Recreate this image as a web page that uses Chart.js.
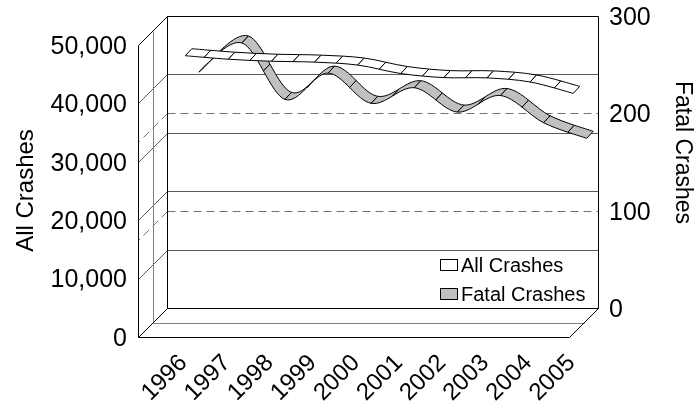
<!DOCTYPE html>
<html><head><meta charset="utf-8">
<script src="https://cdn.jsdelivr.net/npm/chart.js@4.4.1/dist/chart.umd.min.js"></script>
<style>html,body{margin:0;padding:0;background:#fff;}#wrap{width:695px;height:402px;}</style>
</head><body><div id="wrap"><canvas id="c" width="695" height="402"></canvas></div>
<script>
const categories = ['1996','1997','1998','1999','2000','2001','2002','2003','2004','2005'];
const allCrashes = [43800, 43200, 42850, 42700, 42200, 40750, 40050, 40000, 39300, 37350];
const fatalCrashes = [231, 261, 203, 230, 199, 215, 190, 207, 179, 163];
const seriesNames = ['All Crashes', 'Fatal Crashes'];
const axisTitles = ['All Crashes', 'Fatal Crashes'];
const leftGrid = [10000, 20000, 30000, 40000];
const rightGrid = [100, 200];
const seriesFill = ['#ffffff', '#c0c0c0'];

const FONT = '"Liberation Sans", Arial, sans-serif';
Chart.defaults.font.family = FONT;
Chart.defaults.color = '#000';

const DEPTH = {x: -29, y: 29};          // wall depth (front = back + DEPTH)
const HALF = {x: 3.25, y: -3.5};        // half ribbon thickness
const SERIES_OFF = [{x: 0, y: 0}, {x: 13.5, y: -14.5}];

function fmt(v){ return String(v).replace(/\B(?=(\d{3})+(?!\d))/g, ','); }
function px(v){ return Math.round(v) + 0.5; }
function line(ctx, x1, y1, x2, y2){ ctx.beginPath(); ctx.moveTo(px(x1), px(y1)); ctx.lineTo(px(x2), px(y2)); ctx.stroke(); }
function noPad(s){ s.paddingTop = 0; s.paddingBottom = 0; s.paddingLeft = 0; s.paddingRight = 0; }

function splineSegs(P, k){
  const n = P.length, segs = [];
  for (let i = 0; i < n - 1; i++){
    const p0 = P[Math.max(i-1,0)], p1 = P[i], p2 = P[i+1], p3 = P[Math.min(i+2,n-1)];
    segs.push([p1, {x: p1.x + (p2.x - p0.x)*k, y: p1.y + (p2.y - p0.y)*k},
               {x: p2.x - (p3.x - p1.x)*k, y: p2.y - (p3.y - p1.y)*k}, p2]);
  }
  return segs;
}
function split(s){
  const m = (a,b) => ({x:(a.x+b.x)/2, y:(a.y+b.y)/2});
  const [a,b,c,d] = s; const ab=m(a,b), bc=m(b,c), cd=m(c,d), abc=m(ab,bc), bcd=m(bc,cd), M=m(abc,bcd);
  return [[a,ab,abc,M],[M,bcd,cd,d]];
}
function drawRibbon(ctx, P, off, fill){
  const pieces = splineSegs(P, 1/6).flatMap(split);
  const sh = (p, s) => ({x: p.x + off.x + s*HALF.x, y: p.y + off.y + s*HALF.y});
  ctx.save(); ctx.lineWidth = 1; ctx.strokeStyle = '#000'; ctx.fillStyle = fill; ctx.lineJoin = 'round';
  for (const seg of pieces){
    const f = seg.map(p => sh(p,-1)), b = seg.map(p => sh(p,1));
    ctx.beginPath(); ctx.moveTo(f[0].x, f[0].y);
    ctx.bezierCurveTo(f[1].x, f[1].y, f[2].x, f[2].y, f[3].x, f[3].y);
    ctx.lineTo(b[3].x, b[3].y);
    ctx.bezierCurveTo(b[2].x, b[2].y, b[1].x, b[1].y, b[0].x, b[0].y);
    ctx.closePath(); ctx.fill(); ctx.stroke();
  }
  ctx.restore();
}

const plugin3d = {
  id: 'plot3d',
  beforeDatasetsDraw(chart){
    const {ctx, chartArea: ca} = chart;
    const yL = chart.scales.y, yR = chart.scales.y2;
    const L = ca.left, R = ca.right, T = ca.top, B = ca.bottom;
    ctx.save();
    ctx.lineWidth = 1;
    ctx.strokeStyle = '#5a5a5a';
    for (const v of leftGrid){
      const y = yL.getPixelForValue(v);
      line(ctx, L, y, R, y);
      line(ctx, L, y, L + DEPTH.x, y + DEPTH.y);
    }
    ctx.strokeStyle = '#707070'; ctx.setLineDash([8,5]);
    for (const v of rightGrid){
      const y = yR.getPixelForValue(v);
      line(ctx, L, y, R, y);
      line(ctx, L, y, L + DEPTH.x, y + DEPTH.y);
    }
    ctx.setLineDash([]);
    ctx.strokeStyle = '#808080';
    line(ctx, L + DEPTH.x/2, T + DEPTH.y/2, L + DEPTH.x/2, B + DEPTH.y/2);
    line(ctx, L + DEPTH.x/2, B + DEPTH.y/2, R + DEPTH.x/2, B + DEPTH.y/2);
    ctx.strokeStyle = '#000';
    line(ctx, L, T, R, T); line(ctx, R, T, R, B); line(ctx, L, B, R, B); line(ctx, L, T, L, B);
    line(ctx, L, T, L + DEPTH.x, T + DEPTH.y);
    line(ctx, L + DEPTH.x, T + DEPTH.y, L + DEPTH.x, B + DEPTH.y);
    line(ctx, L, B, L + DEPTH.x, B + DEPTH.y);
    line(ctx, L + DEPTH.x, B + DEPTH.y, R + DEPTH.x, B + DEPTH.y);
    line(ctx, R, B, R + DEPTH.x, B + DEPTH.y);
    ctx.restore();
  },
  afterDatasetsDraw(chart){
    const {ctx} = chart;
    for (let i = chart.data.datasets.length - 1; i >= 0; i--){
      const pts = chart.getDatasetMeta(i).data.map(p => ({x: p.x, y: p.y}));
      drawRibbon(ctx, pts, SERIES_OFF[i], seriesFill[i]);
    }
    ctx.save();
    ctx.font = '20px ' + FONT; ctx.textBaseline = 'middle'; ctx.textAlign = 'left';
    const ly = [265, 294];
    chart.data.datasets.forEach((ds, i) => {
      ctx.fillStyle = seriesFill[i]; ctx.strokeStyle = '#000'; ctx.lineWidth = 1;
      ctx.fillRect(440, ly[i] - 6, 18, 12); ctx.strokeRect(440.5, ly[i] - 5.5, 17, 11);
      ctx.fillStyle = '#000'; ctx.fillText(ds.label, 461, ly[i] + 1.5);
    });
    ctx.textAlign = 'center';
    ctx.font = '24px ' + FONT;
    ctx.save(); ctx.translate(26, 190.5); ctx.rotate(-Math.PI/2); ctx.fillText(axisTitles[0], 0, 0); ctx.restore();
    ctx.font = '23px ' + FONT;
    ctx.save(); ctx.translate(682, 152.5); ctx.rotate(Math.PI/2); ctx.fillText(axisTitles[1], 0, 0); ctx.restore();
    ctx.restore();
  }
};

new Chart(document.getElementById('c'), {
  type: 'line',
  data: {
    labels: categories,
    datasets: [
      {label: seriesNames[0], data: allCrashes, yAxisID: 'y', showLine: false, pointRadius: 0, pointHoverRadius: 0, borderWidth: 0, backgroundColor: seriesFill[0]},
      {label: seriesNames[1], data: fatalCrashes, yAxisID: 'y2', showLine: false, pointRadius: 0, pointHoverRadius: 0, borderWidth: 0, backgroundColor: seriesFill[1]}
    ]
  },
  options: {
    responsive: false, animation: false, events: [],
    layout: {padding: {top: 16, left: 0, right: 0, bottom: 0}},
    plugins: {legend: {display: false}, tooltip: {enabled: false}},
    scales: {
      x: {type: 'category', offset: true, grid: {display: false, drawTicks: false}, border: {display: false},
          ticks: {autoSkip: false, minRotation: 45, maxRotation: 45, padding: 41, labelOffset: -5, color: '#000', font: {size: 24}},
          afterFit(s){ s.height = 94; noPad(s); }},
      y: {position: 'left', min: 0, max: 50000, grid: {display: false, drawTicks: false}, border: {display: false},
          ticks: {stepSize: 10000, padding: 40, labelOffset: 31, color: '#000', font: {size: 25}, callback: v => fmt(v)},
          afterFit(s){ s.width = 167; noPad(s); }},
      y2: {position: 'right', min: 0, max: 300, grid: {display: false, drawTicks: false}, border: {display: false},
          ticks: {stepSize: 100, padding: 11, labelOffset: 2, color: '#000', font: {size: 25}},
          afterFit(s){ s.width = 97; noPad(s); }}
    }
  },
  plugins: [plugin3d]
});
</script>
</body></html>
